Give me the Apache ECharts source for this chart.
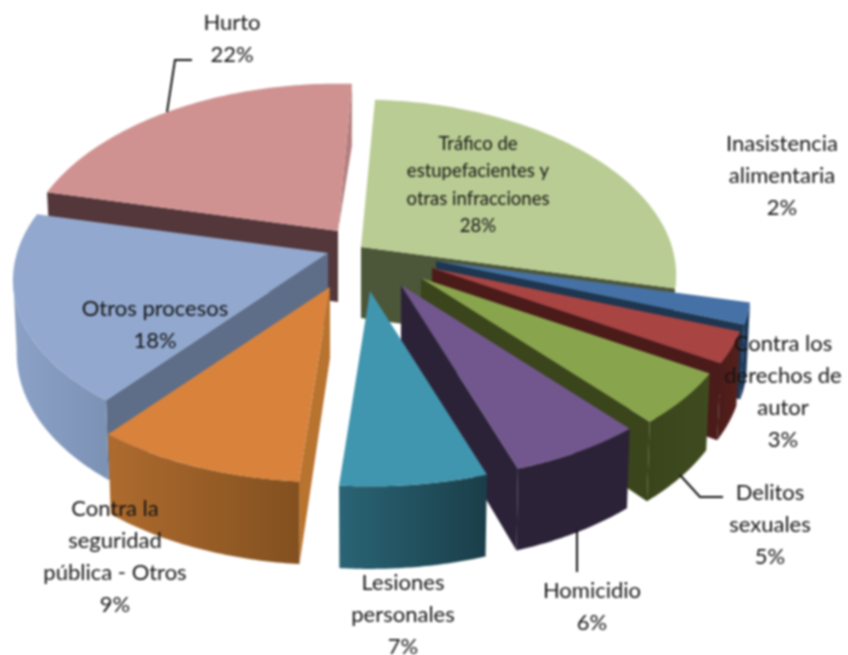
<!DOCTYPE html>
<html><head><meta charset="utf-8">
<script src="https://cdn.jsdelivr.net/npm/echarts@6/dist/echarts.min.js"></script>
<style>html,body{margin:0;padding:0;background:#fff}#main{width:848px;height:655px}#main canvas{filter:blur(1px)}</style>
</head><body><div id="main"></div>
<script>
// Data, in pie order (clockwise from the top). Labels show the values rounded.
const categories = ['Tráfico de\nestupefacientes y\notras infracciones','Inasistencia\nalimentaria','Contra los\nderechos de\nautor','Delitos\nsexuales','Homicidio','Lesiones\npersonales','Contra la\nseguridad\npública - Otros','Otros procesos','Hurto'];
const values = [28,2,3,5,6,6.5,9.4,18.1,22];

// Styles
const topColors = ['#B9CC93','#4571A6','#A84442','#88A44D','#71578E','#4096AE','#D9823C','#92A8CE','#D09291'];
const radialColors = ['#4C5639','#1E3650','#4A1B19','#3A451C','#2C2238','#1B434E','#B8732F','#5E6E88','#53373A'];
const arcColors = [['#4C5639','#4C5639'],['#1E3A5C','#1E3A5C'],['#4A1B19','#561F1C'],['#3A451C','#3F4B1F'],['#2C2238','#2C2238'],['#2A6475','#1A3E49'],['#AE6B2E','#82501F'],['#8BA1C6','#7C92B5'],['#53373A','#53373A']];
const backStripColor = '#B27F7E';
// Layout
const apex = [[361,247],[436,261],[432,268],[421,278],[401,285],[370,291],[330,287],[328,253],[338,231]];
const paintOrder = [8,0,7,1,2,3,4,5,6];
const labelPos = [[478,185],[782,176],[783,392],[770,525],[592,607],[403,615],[115,557],[155,325],[232,39]];
const labelLine = [27.5,32,32,32,32,32,32,32,32];
const labelSize = [18.5,22,22,22,22,22,22,22,22];
const leaders = {8:[[192,60],[175,60],[167,112]],3:[[680,475],[700,497],[723,497]],4:[[577,530],[577,572]]};
const ROT = 3, RX = 311, RY = 168, K = 0.14, KX = 0.16, DEPTH = 71, SHRINK = 0.012;

const total = values.reduce((a,b)=>a+b,0);
const starts = []; values.reduce((s,v,i)=>{starts[i]=s; return s+v;},0);

function proj(i, deg){
  const r = deg*Math.PI/180, X = Math.sin(r), Y = -Math.cos(r), p = 1/(1-K*Y);
  return {x: apex[i][0]+RX*X/(1-KX*Y), y: apex[i][1]+RY*Y*p, p};
}
function topPt(q){return [q.x,q.y];}
function botPt(i,q){return [q.x-(q.x-apex[i][0])*SHRINK, q.y+DEPTH*q.p];}

function renderItem(params, api){
  const i = api.value(0), v = api.value(1);
  const a0 = ROT+starts[i]/total*360, a1 = a0+v/total*360;
  const base = paintOrder.indexOf(i)*10+10;
  const kids = [];
  const c = {x:apex[i][0],y:apex[i][1],p:1};
  const s0 = Math.sin(a0*Math.PI/180), s1 = Math.sin(a1*Math.PI/180);
  const cA=topPt(c), cB=botPt(i,c);
  const poly=(pts,fill,z)=>kids.push({type:'polygon',shape:{points:pts},z2:z,style:{fill,stroke:null}});
  const q0=proj(i,a0), q1=proj(i,a1);
  if(s0<0) poly([cA,topPt(q0),botPt(i,q0),cB],radialColors[i],base);
  if(a1>360) poly([cA,topPt(q1),botPt(i,q1)],backStripColor,base+1);
  else if(s1>0) poly([cA,topPt(q1),botPt(i,q1),cB],radialColors[i],base+1);
  // Outer wall where the rim faces the viewer
  const w0=Math.max(a0,98), w1=Math.min(a1,262);
  if(w1>w0){
    const T=[],B=[];
    for(let d=0;d<=48;d++){const q=proj(i,w0+(w1-w0)*d/48);T.push(topPt(q));B.unshift(botPt(i,q));}
    poly(T.concat(B),new echarts.graphic.LinearGradient(0,0,1,0,[{offset:0,color:arcColors[i][0]},{offset:1,color:arcColors[i][1]}]),base+2);
  }
  // Top face
  const pts=[cA];
  for(let d=0;d<=72;d++) pts.push(topPt(proj(i,a0+(a1-a0)*d/72)));
  poly(pts,topColors[i],base+3);
  // Leader line and label
  if(leaders[i]) kids.push({type:'polyline',shape:{points:leaders[i]},z2:200,style:{stroke:'#111',lineWidth:2,fill:null}});
  kids.push({type:'text',z2:300,x:labelPos[i][0],y:labelPos[i][1],style:{
    text:categories[i]+'\n'+Math.round(v)+'%',fill:'#151515',font:labelSize[i]+'px Lato, "Open Sans", sans-serif',
    align:'center',verticalAlign:'middle',lineHeight:labelLine[i]}});
  return {type:'group',children:kids};
}

const chart = echarts.init(document.getElementById('main'));
chart.setOption({
  animation:false, backgroundColor:'#fff',
  series:[{type:'custom',coordinateSystem:'none',silent:true,renderItem,
    encode:{value:1},
    data:paintOrder.map(i=>[i,values[i]])}]
});
</script></body></html>
